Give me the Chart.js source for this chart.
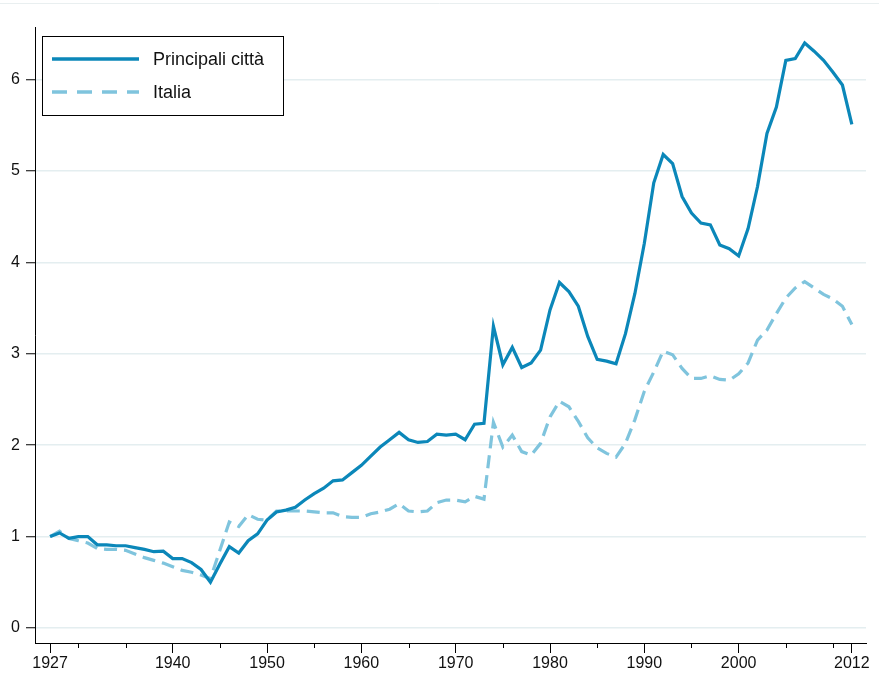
<!DOCTYPE html>
<html>
<head>
<meta charset="utf-8">
<script src="https://cdn.jsdelivr.net/npm/chart.js@4/dist/chart.umd.min.js"></script>
<style>
  html, body { margin: 0; padding: 0; background: #fff; }
  #wrap { width: 879px; height: 675px; position: relative; }
</style>
</head>
<body>
<div id="wrap"><canvas id="myChart"></canvas></div>
<script>
const years = [1927, 1928, 1929, 1930, 1931, 1932, 1933, 1934, 1935, 1936,
  1937, 1938, 1939, 1940, 1941, 1942, 1943, 1944, 1945, 1946,
  1947, 1948, 1949, 1950, 1951, 1952, 1953, 1954, 1955, 1956,
  1957, 1958, 1959, 1960, 1961, 1962, 1963, 1964, 1965, 1966,
  1967, 1968, 1969, 1970, 1971, 1972, 1973, 1974, 1975, 1976,
  1977, 1978, 1979, 1980, 1981, 1982, 1983, 1984, 1985, 1986,
  1987, 1988, 1989, 1990, 1991, 1992, 1993, 1994, 1995, 1996,
  1997, 1998, 1999, 2000, 2001, 2002, 2003, 2004, 2005, 2006,
  2007, 2008, 2009, 2010, 2011, 2012];

const principali = [1.00, 1.04, 0.98, 1.00, 1.00, 0.91, 0.91, 0.90, 0.90, 0.88,
  0.86, 0.835, 0.84, 0.76, 0.76, 0.715, 0.64, 0.50, 0.70, 0.89,
  0.82, 0.955, 1.03, 1.18, 1.27, 1.29, 1.32, 1.40, 1.47, 1.53,
  1.61, 1.62, 1.70, 1.78, 1.88, 1.98, 2.06, 2.14, 2.06, 2.03,
  2.04, 2.12, 2.11, 2.12, 2.06, 2.23, 2.24, 3.30, 2.88, 3.07,
  2.85, 2.90, 3.04, 3.48, 3.78, 3.68, 3.52, 3.19, 2.94, 2.92,
  2.89, 3.22, 3.66, 4.21, 4.87, 5.18, 5.08, 4.72, 4.54, 4.43,
  4.41, 4.19, 4.15, 4.07, 4.37, 4.83, 5.41, 5.70, 6.21, 6.23,
  6.40, 6.31, 6.21, 6.08, 5.94, 5.51];

const italia = [1.00, 1.06, 0.98, 0.955, 0.93, 0.87, 0.86, 0.86, 0.85, 0.81,
  0.77, 0.74, 0.71, 0.67, 0.63, 0.61, 0.58, 0.54, 0.85, 1.16,
  1.11, 1.24, 1.19, 1.18, 1.28, 1.28, 1.28, 1.28, 1.27, 1.26,
  1.26, 1.22, 1.21, 1.21, 1.25, 1.27, 1.30, 1.36, 1.28, 1.27,
  1.28, 1.37, 1.40, 1.40, 1.38, 1.44, 1.41, 2.25, 1.98, 2.11,
  1.93, 1.89, 2.02, 2.31, 2.48, 2.42, 2.26, 2.08, 1.97, 1.91,
  1.87, 2.02, 2.28, 2.59, 2.80, 3.03, 2.99, 2.84, 2.73, 2.73,
  2.76, 2.72, 2.71, 2.78, 2.90, 3.15, 3.26, 3.44, 3.61, 3.72,
  3.79, 3.72, 3.65, 3.60, 3.52, 3.32];

const majorTicks = [1927, 1940, 1950, 1960, 1970, 1980, 1990, 2000, 2012];
const minorTicks = [1930, 1935, 1945, 1955, 1965, 1975, 1985, 1995, 2005, 2010];
const yTicks = [0, 1, 2, 3, 4, 5, 6];

const FONT = '"Liberation Sans", Arial, sans-serif';

// little minor tick marks under the x axis + the thin line at the top of the page
const extras = {
  id: 'extras',
  beforeDraw(chart) {
    const c = chart.ctx;
    c.save();
    c.strokeStyle = '#e9eff0';
    c.lineWidth = 1;
    c.beginPath();
    c.moveTo(0, 3.5);
    c.lineTo(chart.width, 3.5);
    c.stroke();
    c.restore();
  },
  afterDraw(chart) {
    const c = chart.ctx;
    const xs = chart.scales.x;
    c.save();
    c.strokeStyle = '#000';
    c.lineWidth = 1;
    c.beginPath();
    minorTicks.forEach(v => {
      const px = Math.round(xs.getPixelForValue(v)) + 0.5;
      c.moveTo(px, xs.top);
      c.lineTo(px, xs.top + 5);
    });
    c.stroke();

    // legend box
    const bx = 42.5, by = 36.5, bw = 241, bh = 79;
    c.fillStyle = '#fff';
    c.fillRect(bx, by, bw, bh);
    c.strokeStyle = '#000';
    c.strokeRect(bx, by, bw, bh);
    c.font = '18px ' + FONT;
    c.textBaseline = 'middle';
    const rows = [59, 92];
    chart.data.datasets.forEach((ds, i) => {
      c.strokeStyle = ds.borderColor;
      c.lineWidth = 3.5;
      c.setLineDash(i ? [15, 10] : []);
      c.beginPath();
      c.moveTo(52, rows[i]);
      c.lineTo(139, rows[i]);
      c.stroke();
      c.setLineDash([]);
      c.fillStyle = '#111';
      c.fillText(ds.label, 153, rows[i] + 1);
    });
    c.restore();
  }
};

const ctx = document.getElementById('myChart').getContext('2d');
const chart = new Chart(ctx, {
  type: 'line',
  data: {
    datasets: [
      {
        label: 'Principali città',
        data: years.map((y, i) => ({ x: y, y: principali[i] })),
        borderColor: '#0b87b9',
        borderWidth: 3.2,
        pointRadius: 0,
        tension: 0
      },
      {
        label: 'Italia',
        data: years.map((y, i) => ({ x: y, y: italia[i] })),
        borderColor: '#7fc4dd',
        borderWidth: 3.2,
        borderDash: [13, 7],
        pointRadius: 0,
        tension: 0
      }
    ]
  },
  options: {
    responsive: true,
    maintainAspectRatio: false,
    animation: false,
    layout: { padding: { top: 27, right: 13, left: 0, bottom: 0 } },
    plugins: {
      legend: { display: false },
      tooltip: { enabled: false }
    },
    scales: {
      x: {
        type: 'linear',
        min: 1925.4,
        max: 2013.5,
        afterBuildTicks: s => {
          s.ticks = majorTicks.map(v => ({ value: v }));
        },
        afterFit: s => { s.height = 32; },
        grid: {
          drawOnChartArea: false,
          drawTicks: true,
          tickLength: 10,
          tickColor: '#000'
        },
        border: { display: true, color: '#000', width: 1 },
        ticks: {
          autoSkip: false,
          maxRotation: 0,
          padding: 1,
          color: '#111',
          font: { family: FONT, size: 16 },
          callback: v => String(v)
        }
      },
      y: {
        min: -0.164,
        max: 6.575,
        afterBuildTicks: s => {
          s.ticks = yTicks.map(v => ({ value: v }));
        },
        afterFit: s => { s.width = 35; },
        grid: {
          color: '#e4eef0',
          lineWidth: 1.5,
          drawTicks: true,
          tickLength: 9,
          tickColor: '#000',
          tickWidth: 1
        },
        border: { display: true, color: '#000', width: 1 },
        ticks: {
          padding: 6,
          color: '#111',
          font: { family: FONT, size: 16 },
          callback: v => String(v)
        }
      }
    }
  },
  plugins: [extras]
});
</script>
</body>
</html>
